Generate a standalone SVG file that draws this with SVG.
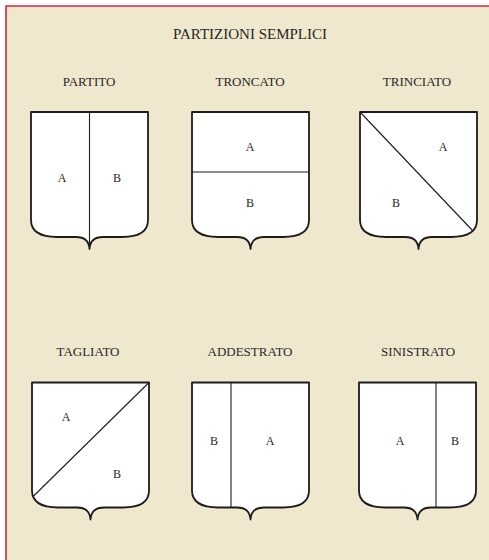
<svg xmlns="http://www.w3.org/2000/svg" xmlns:xlink="http://www.w3.org/1999/xlink" width="489" height="560" viewBox="0 0 489 560">
<style>
.bg{fill:#efe8cf}
.frame{fill:none;stroke:#d4234a;stroke-width:1.6}
.shield{fill:#ffffff;stroke:#1e1c1a;stroke-width:1.8;stroke-linejoin:round}
.div{fill:none;stroke:#1e1c1a;stroke-width:1.1}
text{font-family:"Liberation Serif","Times New Roman",serif;fill:#2a2724;text-anchor:middle}
.title{font-size:15px}
.lbl{font-size:13px}
.ab{font-size:12px}
</style>
<defs>
<path id="shield" d="M0,0 H117 V108 C117,119 108,125 91,125 H72 C64,125 59,129 58.5,137 C58,129 53,125 45,125 H26 C9,125 0,119 0,108 Z"/>
</defs>
<rect x="0" y="0" width="489" height="560" fill="#ffffff"/>
<rect class="bg" x="6" y="6" width="483" height="554"/>
<path class="frame" d="M6,560 V6 H489"/>
<text class="title" x="250" y="39">PARTIZIONI SEMPLICI</text>

<g id="partito">
<text class="lbl" x="89" y="86">PARTITO</text>
<use xlink:href="#shield" href="#shield" class="shield" x="31" y="112"/>
<path class="div" d="M89.5,112 V249"/>
<text class="ab" x="62" y="182">A</text>
<text class="ab" x="117" y="182">B</text>
</g>

<g id="troncato">
<text class="lbl" x="250" y="86">TRONCATO</text>
<use xlink:href="#shield" href="#shield" class="shield" x="192" y="112"/>
<path class="div" d="M192,172 H309"/>
<text class="ab" x="250" y="151">A</text>
<text class="ab" x="250" y="207">B</text>
</g>

<g id="trinciato">
<text class="lbl" x="417" y="86">TRINCIATO</text>
<use xlink:href="#shield" href="#shield" class="shield" x="360" y="112"/>
<path class="div" d="M360,112 L472.5,230.5"/>
<text class="ab" x="443" y="151">A</text>
<text class="ab" x="396" y="207">B</text>
</g>

<g id="tagliato">
<text class="lbl" x="88" y="356">TAGLIATO</text>
<use xlink:href="#shield" href="#shield" class="shield" x="32" y="382.5"/>
<path class="div" d="M149,382.5 L33.1,496.5"/>
<text class="ab" x="66" y="421">A</text>
<text class="ab" x="117" y="478">B</text>
</g>

<g id="addestrato">
<text class="lbl" x="250" y="356">ADDESTRATO</text>
<use xlink:href="#shield" href="#shield" class="shield" x="192" y="382.5"/>
<path class="div" d="M231,382.5 V507.5"/>
<text class="ab" x="214" y="445">B</text>
<text class="ab" x="270" y="445">A</text>
</g>

<g id="sinistrato">
<text class="lbl" x="418" y="356">SINISTRATO</text>
<use xlink:href="#shield" href="#shield" class="shield" x="359" y="382.5"/>
<path class="div" d="M436,382.5 V507.5"/>
<text class="ab" x="400" y="445">A</text>
<text class="ab" x="455" y="445">B</text>
</g>

<g id="connectors"></g>
</svg>
